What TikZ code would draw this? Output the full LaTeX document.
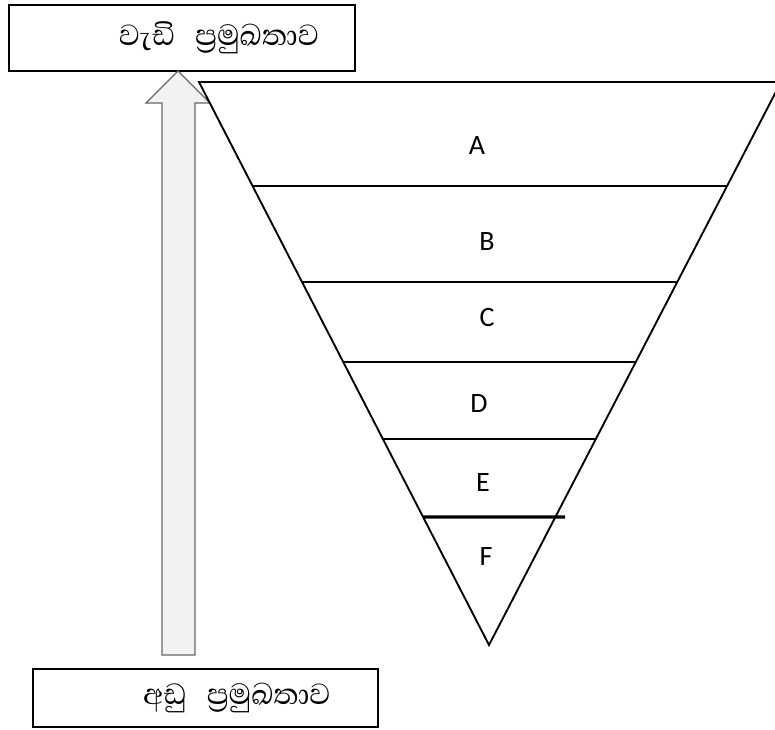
\documentclass[tikz,border=0pt]{standalone}
\usepackage{fontspec}
\setmainfont{Carlito}
\newfontfamily\sinfont[Script=Sinhala]{Abhaya Libre}
\usepackage{tikz}
\usetikzlibrary{positioning, calc}

\begin{document}
\begin{tikzpicture}[
  x=0.75pt, y=-0.75pt,
  line width=1.4pt,
  box/.style={draw, line width=0.9pt, inner sep=0pt},
  sin/.style={font=\sinfont\fontsize{28}{32}\selectfont},
  lbl/.style={font=\fontsize{21}{25}\selectfont}
]
  \useasboundingbox (0,0) rectangle (775,729);

  % priority boxes
  \node[box, minimum width=259.5pt, minimum height=49.5pt] (high) at (182,38) {};
  \node[sin] (hightxt) at ([xshift=27.75pt]high.center) {වැඩි\hspace{0.35em} ප්^^^^200dරමුඛතාව};

  \node[box, minimum width=258.75pt, minimum height=43.5pt] (low) at (205.5,698) {};
  \node[sin] (lowtxt) at ([xshift=23.6pt]low.center) {අඩු\hspace{0.35em} ප්^^^^200dරමුඛතාව};

  % block arrow
  \draw[gray!80!black, line width=1pt, fill=gray!10]
    (162,655) -- (162,103) -- (146,103) -- (178,71) -- (210,103)
    -- (195,103) -- (195,655) -- cycle;

  % inverted pyramid
  \coordinate (tl) at (199,82);
  \coordinate (tr) at (781,82);
  \coordinate (apex) at (489,645);
  \draw (tl) -- (tr) -- (apex) -- cycle;

  \foreach \y/\n in {186/1, 282/2, 362/3, 439/4} {
    \coordinate (l\n) at ($(tl)!{(\y-82)/563}!(apex)$);
    \coordinate (r\n) at ($(tr)!{(\y-82)/563}!(apex)$);
    \draw (l\n) -- (r\n);
  }
  \coordinate (l5) at ($(tl)!{(517-82)/563}!(apex)$);
  \coordinate (r5) at (565,517);
  \draw[line width=2.4pt] (l5) -- (r5);

  % level labels
  \node[lbl] (A) at (477,146) {A};
  \node[lbl] (B) at (487,242) {B};
  \node[lbl] (C) at (487,318) {C};
  \node[lbl] (D) at (479,404) {D};
  \node[lbl] (E) at (483,483) {E};
  \node[lbl] (F) at (486,557) {F};
\end{tikzpicture}
\end{document}
